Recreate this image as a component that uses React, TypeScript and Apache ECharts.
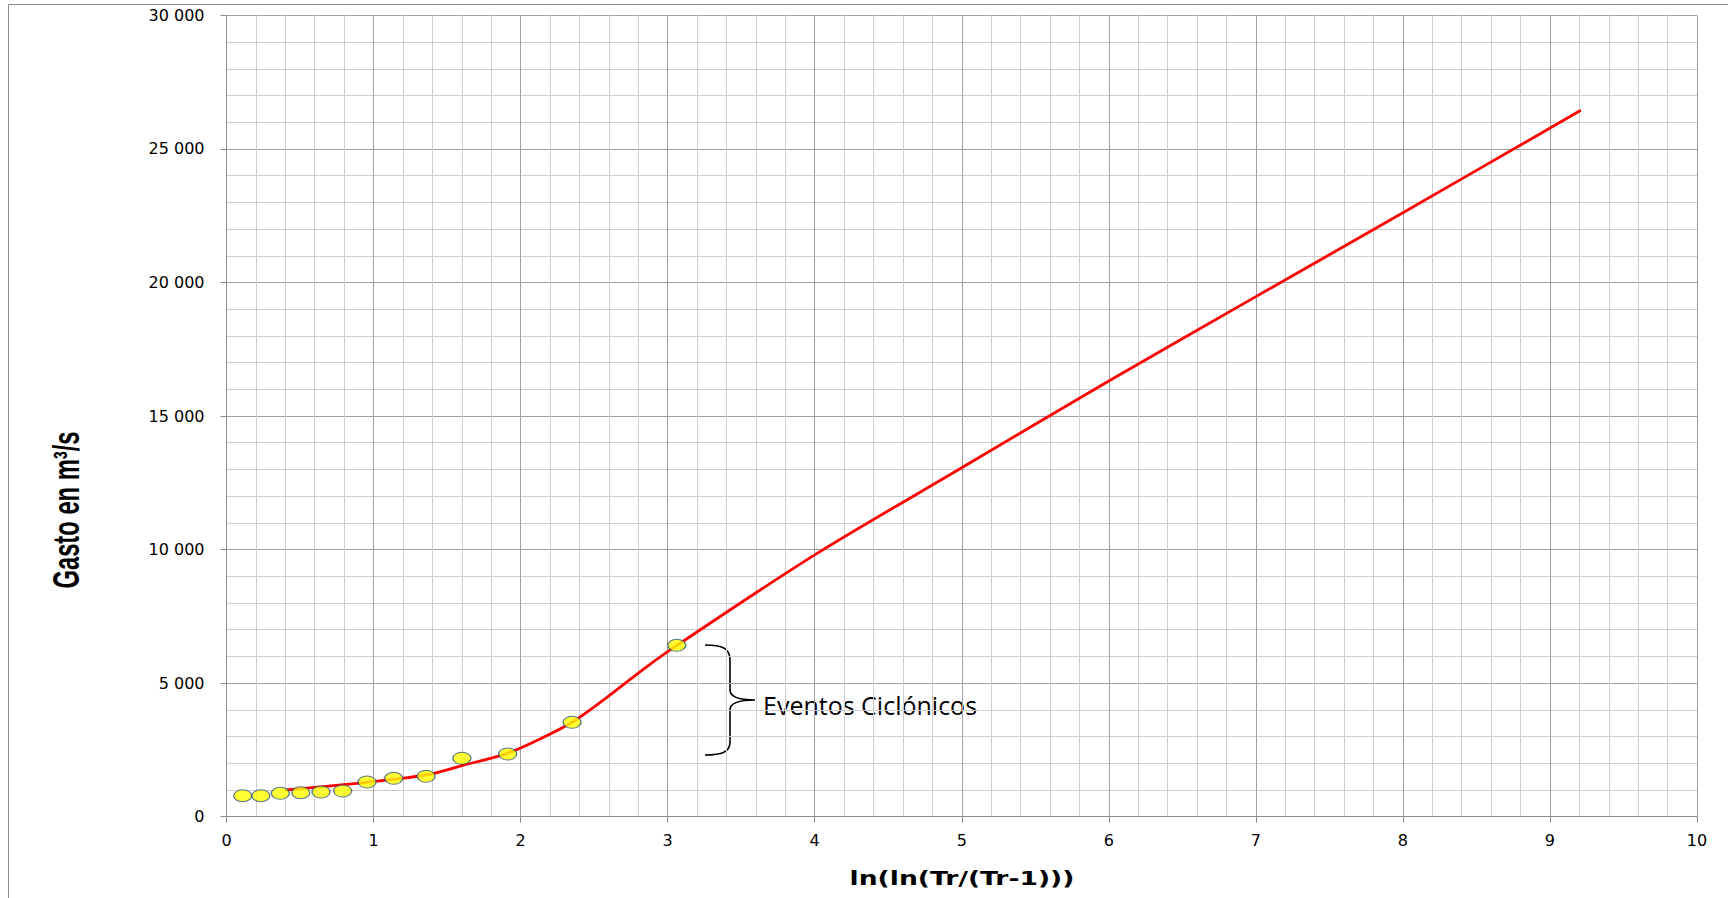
import React, { useEffect, useRef } from "react";
import * as echarts from "echarts";

// Observed points (yellow markers)
const pointX = [0.11, 0.234, 0.366, 0.505, 0.643, 0.79, 0.956, 1.137, 1.357, 1.601, 1.912, 2.35, 3.062];
const pointY = [783, 783, 872, 895, 921, 958, 1296, 1434, 1509, 2183, 2344, 3531, 6414];

// Fitted curve (red line)
const curveX = [0.4, 0.95, 1.36, 1.6, 1.91, 2.13, 2.35, 2.6, 2.85, 3.06, 4, 5, 6, 7, 8, 9.21];
const curveY = [996, 1284, 1558, 1906, 2370, 2900, 3531, 4520, 5580, 6400, 9800, 13060, 16310, 19470, 22612, 26446];

// Axis settings
const xTicks = { min: 0, max: 10, interval: 1 };
const yTicks = { min: 0, max: 30000, interval: 5000 };

const xTitle = "ln(ln(Tr/(Tr-1)))";
const yTitle = "Gasto en m³/s";
const annotation = "Eventos Ciclónicos";

const bracePath =
  "M705,645 C722,645 730,648 730,660 L730,690 C730,697 738,700 755,700 C738,700 730,703 730,710 L730,742 C730,752 722,755 705,755";

echarts.graphic.registerShape("brace", echarts.graphic.extendPath(bracePath, {}) as any);

export default function App() {
  const ref = useRef<HTMLDivElement>(null);
  useEffect(() => {
    if (!ref.current) return;
    const chart = echarts.init(ref.current, null, { renderer: "svg" });
    const fmt = (v: number) => String(v).replace(/\B(?=(\d{3})+(?!\d))/g, " ");
    chart.setOption({
      animation: false,
      backgroundColor: "#ffffff",
      grid: { left: 226.5, right: 31, top: 15.4, bottom: 81.4, containLabel: false },
      xAxis: {
        type: "value",
        min: xTicks.min,
        max: xTicks.max,
        interval: xTicks.interval,
        axisLine: { show: true, onZero: false, lineStyle: { color: "#8c8c8c", width: 1 } },
        axisTick: { show: true, inside: false, length: 6, lineStyle: { color: "#8c8c8c" } },
        axisLabel: { margin: 16, fontFamily: "DejaVu Sans", fontSize: 16, color: "#000" },
        splitLine: { show: true, lineStyle: { color: "#a0a0a0", width: 1 } },
        minorTick: { show: false, splitNumber: 5 },
        minorSplitLine: { show: true, lineStyle: { color: "#cdcdcd", width: 1 } },
      },
      yAxis: {
        type: "value",
        min: yTicks.min,
        max: yTicks.max,
        interval: yTicks.interval,
        axisLine: { show: true, lineStyle: { color: "#8c8c8c", width: 1 } },
        axisTick: { show: true, inside: false, length: 6, lineStyle: { color: "#8c8c8c" } },
        axisLabel: { margin: 22, fontFamily: "DejaVu Sans", fontSize: 16, color: "#000", formatter: fmt },
        splitLine: { show: true, lineStyle: { color: "#a0a0a0", width: 1 } },
        minorTick: { show: false, splitNumber: 5 },
        minorSplitLine: { show: true, lineStyle: { color: "#cdcdcd", width: 1 } },
      },
      series: [
        {
          type: "line",
          data: curveX.map((x, i) => [x, curveY[i]]),
          smooth: 0.3,
          showSymbol: false,
          lineStyle: { color: "#ff0000", width: 2.8 },
          z: 2,
        },
        {
          type: "scatter",
          data: pointX.map((x, i) => [x, pointY[i]]),
          symbol: "path://M0,10 A10,10 0 1,1 20,10 A10,10 0 1,1 0,10 Z",
          symbolSize: [18, 12],
          itemStyle: { color: "#ffff00", borderColor: "#2f5683", borderWidth: 1.1 },
          z: 3,
        },
      ],
      graphic: [
        {
          type: "rect",
          shape: { x: 8.5, y: 4.5, width: 1730, height: 900 },
          style: { fill: "none", stroke: "#8c8c8c", lineWidth: 1 },
          silent: true,
          z: -10,
        },
        {
          type: "text",
          x: 66,
          y: 510,
          rotation: Math.PI / 2,
          scaleX: 1.08,
          scaleY: 1.7,
          style: {
            text: yTitle,
            fontFamily: "Liberation Sans",
            fontWeight: "bold",
            fontSize: 22,
            fill: "#000",
            align: "center",
            verticalAlign: "middle",
          },
        },
        {
          type: "text",
          x: 962,
          y: 878,
          scaleX: 1.33,
          style: {
            text: xTitle,
            fontFamily: "DejaVu Sans",
            fontWeight: "bold",
            fontSize: 20,
            fill: "#000",
            align: "center",
            verticalAlign: "middle",
          },
        },
        {
          type: "text",
          x: 763,
          y: 705,
          style: {
            text: annotation,
            fontFamily: "Open Sans",
            fontSize: 25,
            fill: "#000",
            align: "left",
            verticalAlign: "middle",
          },
        },
        {
          type: "brace",
          x: 0,
          y: 0,
          scaleX: 1,
          scaleY: 1,
          style: { fill: "none", stroke: "#000", lineWidth: 1.6 },
        },
      ],
    });
    return () => chart.dispose();
  }, []);
  return (
    <div
      ref={ref}
      style={{ position: "fixed", left: 0, top: 0, width: 1728, height: 898 }}
    />
  );
}
